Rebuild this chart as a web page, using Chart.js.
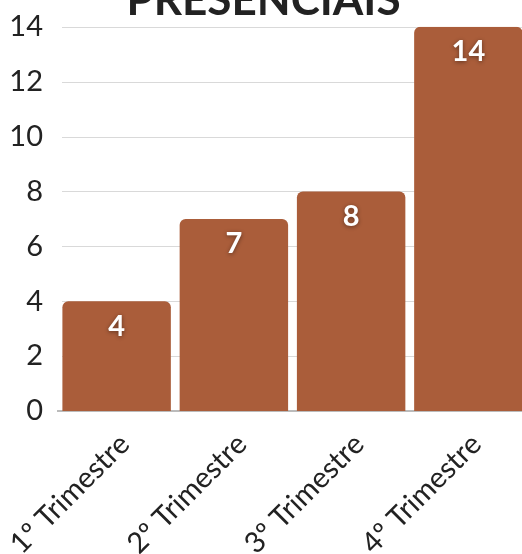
<!DOCTYPE html>
<html>
<head>
<meta charset="utf-8">
<script src="https://cdn.jsdelivr.net/npm/chart.js@4.4.1/dist/chart.umd.min.js"></script>
<style>
  html, body { margin: 0; padding: 0; background: #fff; }
  #wrap { width: 522px; height: 554px; overflow: hidden; position: relative; }
  #c { position: absolute; left: 0; top: -26px; }
</style>
</head>
<body>
<div id="wrap"><canvas id="c" width="527" height="580"></canvas></div>
<script>
const chartTitle = "PRESENCIAIS";
const categories = ["1º Trimestre", "2º Trimestre", "3º Trimestre", "4º Trimestre"];
const values = [4, 7, 8, 14];
const yTicks = [0, 2, 4, 6, 8, 10, 12, 14];

const barLabels = {
  id: 'barLabels',
  afterDatasetsDraw(chart) {
    const ctx = chart.ctx;
    const meta = chart.getDatasetMeta(0);
    ctx.save();
    ctx.font = 'bold 29px Lato, "DejaVu Sans", sans-serif';
    ctx.fillStyle = '#ffffff';
    ctx.textAlign = 'center';
    ctx.textBaseline = 'middle';
    ctx.shadowColor = 'rgba(0,0,0,0.45)';
    ctx.shadowBlur = 4;
    ctx.shadowOffsetX = 0;
    ctx.shadowOffsetY = 1;
    meta.data.forEach((bar, i) => {
      ctx.fillText(String(values[i]), bar.x, bar.y + 25);
    });
    ctx.restore();
  }
};

const gridLines = {
  id: 'gridLines',
  beforeDatasetsDraw(chart) {
    const ctx = chart.ctx;
    const y = chart.scales.y;
    const area = chart.chartArea;
    ctx.save();
    ctx.strokeStyle = '#d9d9d9';
    ctx.lineWidth = 1;
    yTicks.forEach(v => {
      if (v === 0) return;
      const py = Math.round(y.getPixelForValue(v)) + 0.5;
      ctx.beginPath();
      ctx.moveTo(area.left + 4, py);
      ctx.lineTo(area.right, py);
      ctx.stroke();
    });
    ctx.restore();
  }
};

new Chart(document.getElementById('c'), {
  type: 'bar',
  data: {
    labels: categories,
    datasets: [{
      data: values,
      backgroundColor: '#AA5D3A',
      borderRadius: { topLeft: 6, topRight: 6, bottomLeft: 0, bottomRight: 0 },
      borderSkipped: 'bottom',
      barPercentage: 0.925,
      categoryPercentage: 1.0
    }]
  },
  options: {
    responsive: false,
    animation: false,
    devicePixelRatio: 1,
    layout: { padding: { left: 0, right: 0, top: 0, bottom: 0 } },
    plugins: {
      legend: { display: false },
      tooltip: { enabled: false },
      title: {
        display: true,
        text: chartTitle,
        color: '#222222',
        font: { family: 'Lato, "DejaVu Sans", sans-serif', size: 44, weight: 'bold' },
        padding: { top: 0, bottom: 0 }
      }
    },
    scales: {
      x: {
        afterFit(scale) { scale.height = 143; scale.paddingLeft = 0; scale.paddingRight = 0; },
        grid: { display: false, drawTicks: false },
        border: { display: true, color: '#bbbbbb', width: 2 },
        ticks: {
          color: '#222222',
          font: { family: 'Lato, "DejaVu Sans", sans-serif', size: 29 },
          maxRotation: 45,
          minRotation: 45,
          autoSkip: false,
          labelOffset: 8,
          padding: 16
        }
      },
      y: {
        min: 0,
        max: 14,
        afterBuildTicks(scale) { scale.ticks = yTicks.map(v => ({ value: v })); },
        afterFit(scale) { scale.width = 58; },
        grid: { display: false, drawTicks: false },
        border: { display: false },
        ticks: {
          color: '#222222',
          font: { family: 'Lato, "DejaVu Sans", sans-serif', size: 29 },
          padding: 15
        }
      }
    }
  },
  plugins: [gridLines, barLabels]
});
</script>
</body>
</html>
